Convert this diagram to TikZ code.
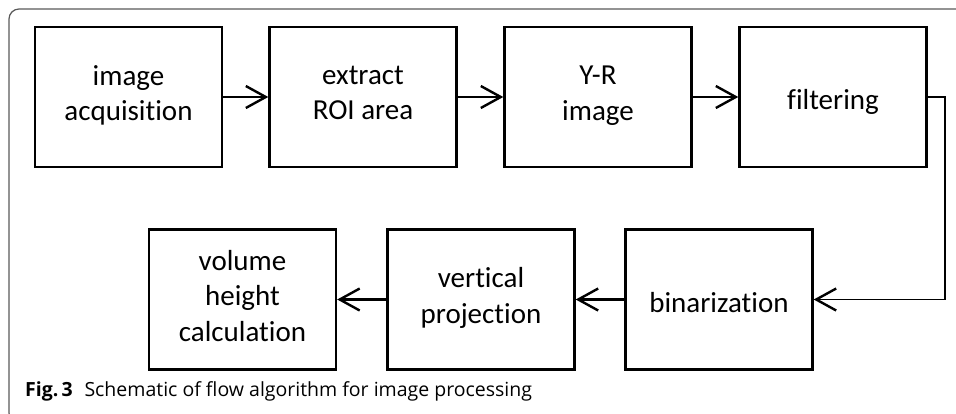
\documentclass[tikz,border=0pt]{standalone}
\usepackage{fontspec}
\setmainfont{Carlito}[Ligatures={NoCommon}]
\newfontfamily\capfont{Open Sans}
\usetikzlibrary{arrows.meta}
\newcommand\boxstrut{\rule[-0.269em]{0pt}{1.421em}}
\begin{document}
\begin{tikzpicture}[x=1pt,y=-1pt,
  stage/.style={draw,line width=2.4pt,minimum width=187pt,minimum height=140pt,
    inner sep=0pt,align=center,font=\fontsize{29}{35.4}\selectfont,
    execute at begin node=\boxstrut,execute at end node=\boxstrut},
  flow/.style={line width=2.4pt,-{Straight Barb[length=20pt,width=22pt,line width=2.4pt]}}]
\useasboundingbox (0,0) rectangle (956,413);
\draw[gray!70!black,line width=1.2pt,rounded corners=10pt] (960,9) -- (9,9) -- (9,423) -- (40,423);
\node[stage] (acq) at (128.5,97) {image\\acquisition};
\node[stage] (roi) at (363,97) {extract\\ROI area};
\node[stage] (yr) at (598,97) {Y-R\\image};
\node[stage] (filt) at (833,97) {filtering};
\node[stage] (bin) at (719,299.5) {binarization};
\node[stage] (proj) at (481,299.5) {vertical\\projection};
\node[stage] (vol) at (242.5,299.5) {volume\\height\\calculation};
\draw[flow] (acq) -- (roi);
\draw[flow] (roi) -- (yr);
\draw[flow] (yr) -- (filt);
\draw[flow,line width=1.8pt] (filt.east) -- ++(17,0) |- (bin.east);
\draw[flow] (bin) -- (proj);
\draw[flow] (proj) -- (vol);
\node[anchor=base west,inner sep=0pt,font=\capfont\fontsize{19.5}{23}\selectfont] (cap) at (25,396)
  {\textbf{Fig.\,3}\hspace{0.6em}Schematic of flow algorithm for image processing};
\end{tikzpicture}
\end{document}
